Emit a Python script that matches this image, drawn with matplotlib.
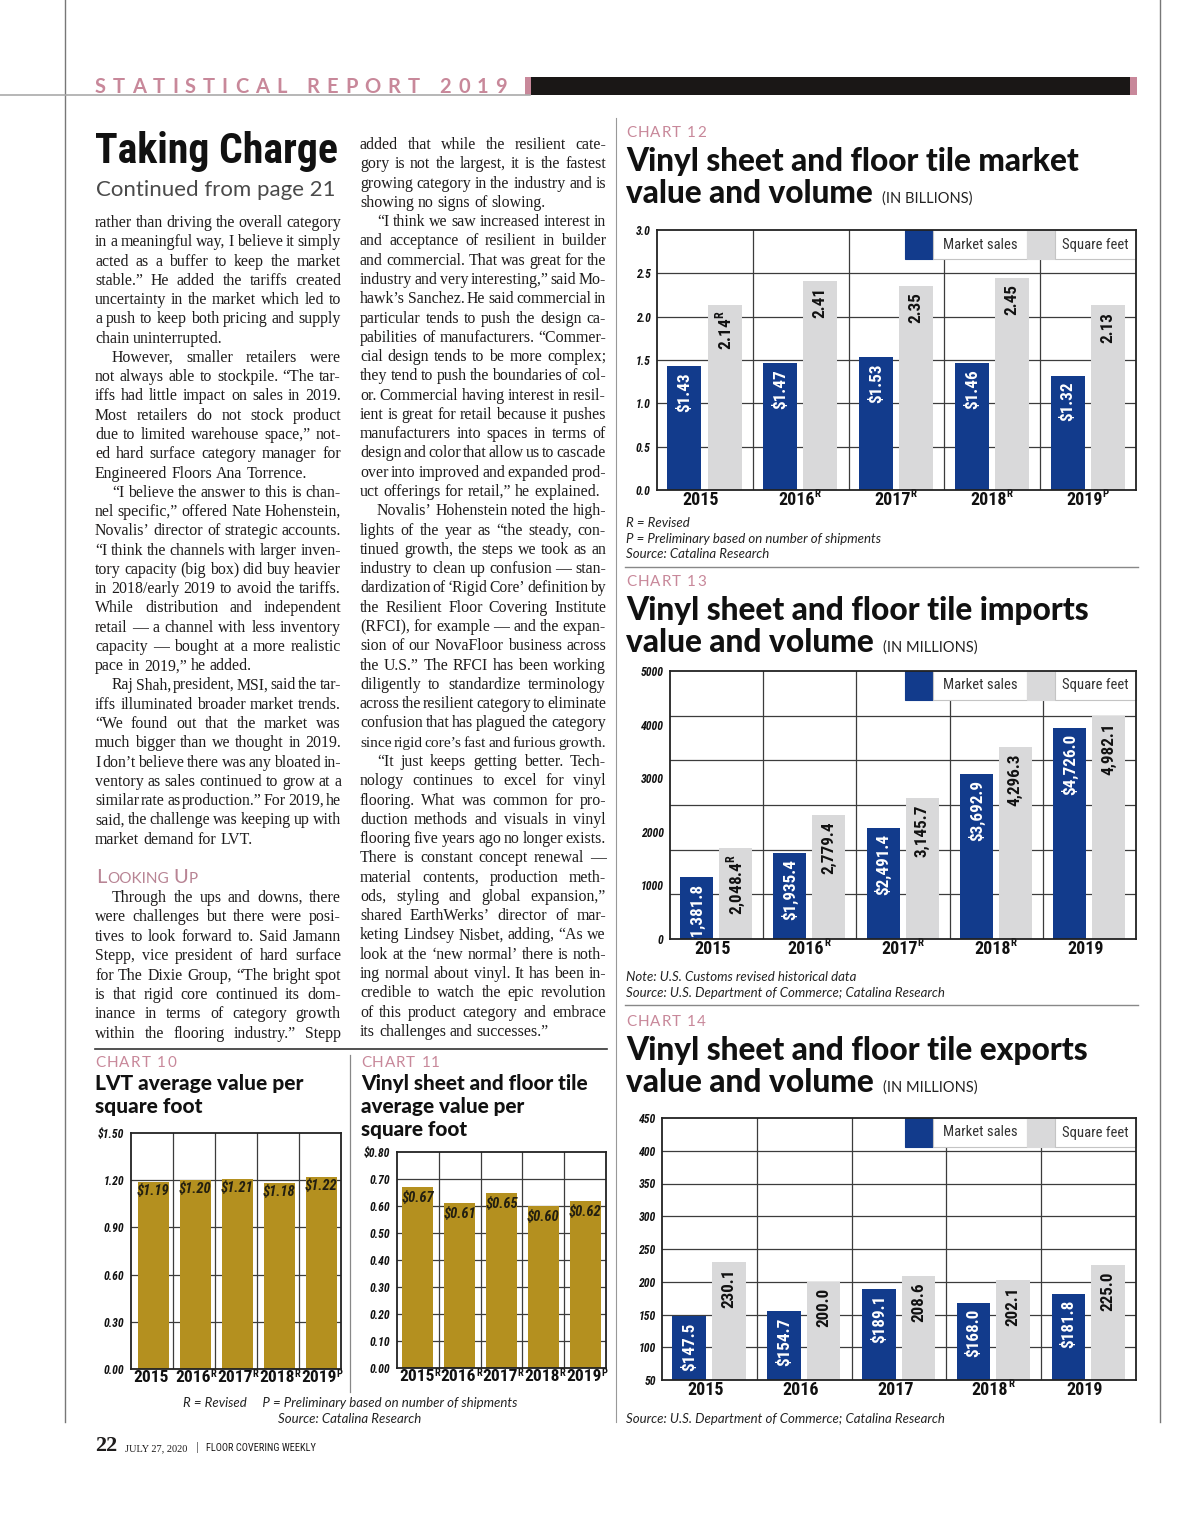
import matplotlib
matplotlib.use('Agg')
import matplotlib.pyplot as plt
from matplotlib import font_manager as fm
from matplotlib.patches import Rectangle
import numpy as np

# ---------------------------------------------------------------- data
years = ['2015', '2016', '2017', '2018', '2019']

c10_values = [1.19, 1.20, 1.21, 1.18, 1.22]
c10_year_sup = ['', 'R', 'R', 'R', 'P']
c10_ticks = [0.0, 0.3, 0.6, 0.9, 1.2, 1.5]
c10_tick_labels = ['0.00', '0.30', '0.60', '0.90', '1.20', '$1.50']

c11_values = [0.67, 0.61, 0.65, 0.60, 0.62]
c11_year_sup = ['R', 'R', 'R', 'R', 'P']
c11_ticks = [0.0, 0.1, 0.2, 0.3, 0.4, 0.5, 0.6, 0.7, 0.8]
c11_tick_labels = ['0.00', '0.10', '0.20', '0.30', '0.40', '0.50', '0.60', '0.70', '$0.80']

c12_sales = [1.43, 1.47, 1.53, 1.46, 1.32]
c12_sqft = [2.14, 2.41, 2.35, 2.45, 2.13]
c12_sqft_sup = ['R', '', '', '', '']
c12_year_sup = ['', 'R', 'R', 'R', 'P']
c12_ticks = [0.0, 0.5, 1.0, 1.5, 2.0, 2.5, 3.0]
c12_tick_labels = ['0.0', '0.5', '1.0', '1.5', '2.0', '2.5', '3.0']

c13_sales = [1381.8, 1935.4, 2491.4, 3692.9, 4726.0]
c13_sqft = [2048.4, 2779.4, 3145.7, 4296.3, 4982.1]
c13_sqft_sup = ['R', '', '', '', '']
c13_year_sup = ['', 'R', 'R', 'R', '']
c13_grid = [1000, 2000, 3000, 4000, 5000]
c13_tick_labels = ['0', '1000', '2000', '3000', '4000', '5000']

c14_sales = [147.5, 154.7, 189.1, 168.0, 181.8]
c14_sqft = [230.1, 200.0, 208.6, 202.1, 225.0]
c14_sqft_sup = ['', '', '', '', '']
c14_year_sup = ['', '', '', 'R', '']
c14_ticks = [50, 100, 150, 200, 250, 300, 350, 400, 450]
c14_tick_labels = ['50', '100', '150', '200', '250', '300', '350', '400', '450']

legend_labels = ['Market sales', 'Square feet']

# body text: (indent first line, lines, justify last line)
left_block_a = [
    (False, ["rather than driving the overall category",
             "in a meaningful way, I believe it simply",
             "acted as a buffer to keep the market",
             "stable.” He added the tariffs created",
             "uncertainty in the market which led to",
             "a push to keep both pricing and supply",
             "chain uninterrupted."], False),
    (True, ["However, smaller retailers were",
            "not always able to stockpile. “The tar-",
            "iffs had little impact on sales in 2019.",
            "Most retailers do not stock product",
            "due to limited warehouse space,” not-",
            "ed hard surface category manager for",
            "Engineered Floors Ana Torrence."], False),
    (True, ["“I believe the answer to this is chan-",
            "nel specific,” offered Nate Hohenstein,",
            "Novalis’ director of strategic accounts.",
            "“I think the channels with larger inven-",
            "tory capacity (big box) did buy heavier",
            "in 2018/early 2019 to avoid the tariffs.",
            "While distribution and independent",
            "retail — a channel with less inventory",
            "capacity — bought at a more realistic",
            "pace in 2019,” he added."], False),
    (True, ["Raj Shah, president, MSI, said the tar-",
            "iffs illuminated broader market trends.",
            "“We found out that the market was",
            "much bigger than we thought in 2019.",
            "I don’t believe there was any bloated in-",
            "ventory as sales continued to grow at a",
            "similar rate as production.” For 2019, he",
            "said, the challenge was keeping up with",
            "market demand for LVT."], False),
]
left_block_b = [
    (True, ["Through the ups and downs, there",
            "were challenges but there were posi-",
            "tives to look forward to. Said Jamann",
            "Stepp, vice president of hard surface",
            "for The Dixie Group, “The bright spot",
            "is that rigid core continued its dom-",
            "inance in terms of category growth",
            "within the flooring industry.” Stepp"], True),
]
middle_block = [
    (False, ["added that while the resilient cate-",
             "gory is not the largest, it is the fastest",
             "growing category in the industry and is",
             "showing no signs of slowing."], False),
    (True, ["“I think we saw increased interest in",
            "and acceptance of resilient in builder",
            "and commercial. That was great for the",
            "industry and very interesting,” said Mo-",
            "hawk’s Sanchez. He said commercial in",
            "particular tends to push the design ca-",
            "pabilities of manufacturers. “Commer-",
            "cial design tends to be more complex;",
            "they tend to push the boundaries of col-",
            "or. Commercial having interest in resil-",
            "ient is great for retail because it pushes",
            "manufacturers into spaces in terms of",
            "design and color that allow us to cascade",
            "over into improved and expanded prod-",
            "uct offerings for retail,” he explained."], False),
    (True, ["Novalis’ Hohenstein noted the high-",
            "lights of the year as “the steady, con-",
            "tinued growth, the steps we took as an",
            "industry to clean up confusion — stan-",
            "dardization of ‘Rigid Core’ definition by",
            "the Resilient Floor Covering Institute",
            "(RFCI), for example — and the expan-",
            "sion of our NovaFloor business across",
            "the U.S.” The RFCI has been working",
            "diligently to standardize terminology",
            "across the resilient category to eliminate",
            "confusion that has plagued the category",
            "since rigid core’s fast and furious growth."], True),
    (True, ["“It just keeps getting better. Tech-",
            "nology continues to excel for vinyl",
            "flooring. What was common for pro-",
            "duction methods and visuals in vinyl",
            "flooring five years ago no longer exists.",
            "There is constant concept renewal —",
            "material contents, production meth-",
            "ods, styling and global expansion,”",
            "shared EarthWerks’ director of mar-",
            "keting Lindsey Nisbet, adding, “As we",
            "look at the ‘new normal’ there is noth-",
            "ing normal about vinyl. It has been in-",
            "credible to watch the epic revolution",
            "of this product category and embrace",
            "its challenges and successes.”"], False),
]

# ---------------------------------------------------------------- fonts
def has_font(name):
    try:
        fm.findfont(fm.FontProperties(family=name), fallback_to_default=False)
        return True
    except Exception:
        return False


def pick(*names):
    for n in names:
        if has_font(n):
            return n
    return 'DejaVu Sans'


NARROW = pick('Roboto Condensed', 'Barlow Condensed', 'Archivo Narrow', 'Liberation Sans Narrow',
              'DejaVu Sans')
NS = 1.0 if NARROW != 'DejaVu Sans' else 0.78
SERIF = pick('Liberation Serif', 'Tinos', 'DejaVu Serif')
GEO = pick('Lato', 'Open Sans', 'DejaVu Sans')

# ---------------------------------------------------------------- style
W, H, DPI = 1200, 1516, 100
INK = '#1e1c1c'
PINK = '#c8889a'
BLUE = '#123b8c'
LGRAY = '#d9d9da'
GOLD = '#b4901f'
GRID = '#3c3c3c'

fig = plt.figure(figsize=(W / DPI, H / DPI), dpi=DPI)
fig.patch.set_facecolor('white')
ov = fig.add_axes([0, 0, 1, 1])
ov.set_xlim(0, W)
ov.set_ylim(H, 0)
ov.axis('off')
R = fig.canvas.get_renderer()


def tw(t):
    return t.get_window_extent(renderer=R).width


def rect(x0, y0, x1, y1):
    return [x0 / W, 1 - y1 / H, (x1 - x0) / W, (y1 - y0) / H]


def fit_text(x, y, s, width, fs=20, **kw):
    t = ov.text(x, y, s, fontsize=fs, ha='left', va='baseline', **kw)
    t.set_fontsize(fs * width / tw(t))
    return t


def spaced(x, y, s, x_end, **kw):
    fs = kw['fontsize']
    sp = fs * DPI / 72 * 0.3
    objs, ws = [], []
    for ch in s:
        t = ov.text(0, y, ch, ha='left', va='baseline', **kw)
        objs.append(t)
        ws.append(sp if ch == ' ' else tw(t))
    track = (x_end - x - sum(ws)) / (len(s) - 1)
    cx = x
    for t, w in zip(objs, ws):
        t.set_x(cx)
        cx += w + track


def seq(x, y, parts, **kw):
    cx = x
    for s, fs, g in parts:
        t = ov.text(cx, y, s, fontsize=fs, ha='left', va='baseline', **kw)
        cx += tw(t) + g
    return cx


BODY_W = 246.0
MIN_GAP = 0.5   # fraction of a normal word space allowed on tight lines


def word_widths(words, fs):
    out = []
    for w in words:
        t = ov.text(0, 0, w, fontsize=fs, family=SERIF)
        out.append(tw(t))
        t.remove()
    return out


def body_fontsize(blocks, fs0=11.0):
    fits = []
    for paras in blocks:
        for ind, lines, just_last in paras:
            for j, ln in enumerate(lines):
                last = j == len(lines) - 1
                if last and not just_last:
                    continue
                avail = BODY_W - (17 if (ind and j == 0) else 0)
                words = ln.split(' ')
                total = sum(word_widths(words, fs0))
                sp = fs0 * DPI / 72 * 0.25 * MIN_GAP
                fits.append(fs0 * avail / (total + (len(words) - 1) * sp))
    fits.sort()
    return fits[3]


def draw_line(s, x0, x1, y, justify, fs):
    words = s.split(' ')
    kw = dict(family=SERIF, color=INK, ha='left', va='baseline')
    objs = [ov.text(0, y, w, fontsize=fs, **kw) for w in words]
    widths = [tw(o) for o in objs]
    space = fs * DPI / 72 * 0.25
    n = len(words)
    total = sum(widths)
    avail = x1 - x0
    if total + (n - 1) * space * MIN_GAP > avail:
        f = avail / (total + (n - 1) * space * MIN_GAP)
        for o in objs:
            o.set_fontsize(fs * f)
        widths = [tw(o) for o in objs]
        total = sum(widths)
    if justify and n > 1:
        gap = (avail - total) / (n - 1)
    else:
        gap = space
    cx = x0
    for o, w in zip(objs, widths):
        o.set_x(cx)
        cx += w + gap


def draw_block(paras, x0, x1, y0, dy, fs, indent=17):
    i = 0
    for ind, lines, just_last in paras:
        for j, ln in enumerate(lines):
            xs = x0 + (indent if (ind and j == 0) else 0)
            last = j == len(lines) - 1
            draw_line(ln, xs, x1, y0 + i * dy, (not last) or just_last, fs)
            i += 1


def sup(base, s):
    return base + (r'$^{\mathregular{%s}}$' % s if s else '')


# ---------------------------------------------------------------- page furniture
ov.plot([65, 65], [0, 1422], color='#777', lw=1.0)
ov.plot([1160, 1160], [0, 1422], color='#777', lw=1.0)
ov.plot([0, 530], [95, 95], color='#aaa', lw=1.2)
ov.add_patch(Rectangle((525, 77), 6, 18, facecolor=PINK, edgecolor='none'))
ov.add_patch(Rectangle((531, 77), 599, 18, facecolor='#1a1716', edgecolor='none'))
ov.add_patch(Rectangle((1130, 77), 7, 18, facecolor=PINK, edgecolor='none'))
spaced(95, 93, 'STATISTICAL REPORT 2019', 507, fontsize=14.5, family=GEO,
       fontweight='bold', color=PINK)

ov.plot([616, 616], [118, 1422], color='#999', lw=0.8)
ov.plot([625, 1138], [567, 567], color='#888', lw=1.0)
ov.plot([625, 1138], [1005, 1005], color='#888', lw=1.0)
ov.plot([95, 607], [1049, 1049], color='#333', lw=1.2)
ov.plot([350, 350], [1055, 1392], color='#888', lw=0.9)

# headline
fit_text(95, 163, 'Taking Charge', 243, fs=30, family=NARROW, fontweight='bold', color='#111')
fit_text(96, 196, 'Continued from page 21', 237, fs=13, family=GEO, fontweight='normal',
         color='#4a4a4a')

# body text
FS_BODY = body_fontsize([left_block_a, left_block_b, middle_block])
draw_block(left_block_a, 95, 341, 227, 19.27, FS_BODY)
draw_block(left_block_b, 95, 341, 902, 19.4, FS_BODY)
draw_block(middle_block, 360, 606, 149, 19.28, FS_BODY)

# Looking Up
seq(96, 883, [('L', 14.5, 0.5), ('OOKING', 11, 5), ('U', 14.5, 0.5), ('P', 11, 0)],
    family=GEO, color='#b88494')

# footer
x = seq(95, 1451, [('22', 16, 8)], family='Liberation Serif', fontweight='bold', color=INK)
x = seq(x, 1451, [('JULY 27, 2020', 7.5, 8)], family=SERIF, color=INK)
x = seq(x, 1451, [('|', 8, 8)], family=GEO, color='#555')
seq(x, 1451, [('FLOOR COVERING WEEKLY', 7.5, 0)], family=NARROW, color=INK)


# chart headings
def heading(x, y_lab, lab, lab_end, lines, width, bold_fs, y_lines, suffix=None):
    spaced(x, y_lab, lab, lab_end, fontsize=11, family=GEO, color=PINK)
    t = fit_text(x, y_lines[0], lines[0], width, fs=bold_fs, family=GEO,
                 fontweight='black', color='#111')
    fs = t.get_fontsize()
    last = t
    for ln, yy in zip(lines[1:], y_lines[1:]):
        last = ov.text(x, yy, ln, fontsize=fs, family=GEO, fontweight='black',
                       color='#111', ha='left', va='baseline')
    if suffix:
        ov.text(x + tw(last) + 9, y_lines[-1], suffix, fontsize=10.5, family=GEO,
                color='#222', ha='left', va='baseline')


heading(626, 137, 'CHART 12', 706, ['Vinyl sheet and floor tile market', 'value and volume'],
        453, 24, [171, 203], '(IN BILLIONS)')
heading(626, 586, 'CHART 13', 706, ['Vinyl sheet and floor tile imports', 'value and volume'],
        462, 24, [620, 652], '(IN MILLIONS)')
heading(626, 1026, 'CHART 14', 706, ['Vinyl sheet and floor tile exports', 'value and volume'],
        462, 24, [1060, 1092], '(IN MILLIONS)')
heading(95, 1067, 'CHART 10', 176, ['LVT average value per', 'square foot'], 209, 15,
        [1090, 1113])
heading(361, 1067, 'CHART 11', 440, ['Vinyl sheet and floor tile', 'average value per',
                                      'square foot'], 229, 15, [1090, 1113, 1136])

# footnotes
NOTE = dict(family=GEO, fontstyle='italic', color='#222', va='baseline')
ov.text(350, 1407, 'R = Revised     P = Preliminary based on number of shipments',
        fontsize=9.5, ha='center', **NOTE)
ov.text(350, 1423, 'Source: Catalina Research', fontsize=9.5, ha='center', **NOTE)
ov.text(626, 527, 'R = Revised', fontsize=9.5, ha='left', **NOTE)
ov.text(626, 543, 'P = Preliminary based on number of shipments', fontsize=9.5, ha='left', **NOTE)
ov.text(626, 558, 'Source: Catalina Research', fontsize=9.5, ha='left', **NOTE)
ov.text(626, 981, 'Note: U.S. Customs revised historical data', fontsize=9.5, ha='left', **NOTE)
ov.text(626, 997, 'Source: U.S. Department of Commerce; Catalina Research', fontsize=9.5,
        ha='left', **NOTE)
ov.text(626, 1423, 'Source: U.S. Department of Commerce; Catalina Research', fontsize=9.5,
        ha='left', **NOTE)

# ---------------------------------------------------------------- charts
TICKY = dict(fontsize=8.5 * NS, fontstyle='italic', fontweight='bold', family=NARROW, color='#111')


def chart_axes(px, ymin, ymax):
    ax = fig.add_axes(rect(*px))
    ax.set_xlim(0, 5)
    ax.set_ylim(ymin, ymax)
    ax.set_facecolor('white')
    for s in ax.spines.values():
        s.set_linewidth(1.3)
        s.set_color('#222')
        s.set_zorder(6)
    ax.tick_params(length=0)
    for xv in range(1, 5):
        ax.axvline(xv, color=GRID, lw=0.9, zorder=1)
    return ax


def year_labels(ax, xs, ysup, fs, pad):
    ax.set_xticks([])
    for xv, yr, s in zip(xs, years, ysup):
        t = ax.annotate(yr, xy=(xv, 0), xycoords=('data', 'axes fraction'), xytext=(0, -pad),
                        textcoords='offset points', ha='center', va='top', fontsize=fs,
                        fontweight='bold', family=NARROW, color='#111', annotation_clip=False)
        if s:
            ax.annotate(s, xy=(1, 1), xycoords=t, xytext=(-0.2, 1.2), textcoords='offset points',
                        ha='left', va='top', fontsize=fs * 0.6, fontweight='bold',
                        family=NARROW, color='#111', annotation_clip=False)


def gold_chart(px, values, ticks, labels, ysup, center, width, val_off):
    ax = chart_axes(px, 0, ticks[-1])
    for yv in ticks[1:-1]:
        ax.axhline(yv, color=GRID, lw=0.9, zorder=1)
    xs = np.arange(5) + center
    ax.bar(xs, values, width, color=GOLD, zorder=2)
    for xv, v in zip(xs, values):
        ax.annotate('$%.2f' % v, (xv, v), xytext=(0, val_off), textcoords='offset points',
                    ha='center', va='top', fontsize=10.5 * NS, fontweight='bold',
                    fontstyle='italic', family=NARROW, color='#231f10', zorder=3)
    ax.set_yticks(ticks, labels, **TICKY)
    ax.tick_params(axis='y', pad=5)
    year_labels(ax, np.arange(5) + 0.47, ysup, 12.5 * NS, 1.0)
    return ax


def pair_chart(px, ymin, ymax, grid_ys, sales, sqft, sales_fmt, sqft_fmt, sqft_sup,
               ysup, yticks, ylabels):
    ax = chart_axes(px, ymin, ymax)
    for yv in grid_ys:
        ax.axhline(yv, color=GRID, lw=0.9, zorder=1)
    xb = np.arange(5) + 0.287
    xg = np.arange(5) + 0.705
    w = 0.355
    ax.bar(xb, sales, w, color=BLUE, zorder=2)
    ax.bar(xg, sqft, w, color=LGRAY, zorder=2)
    lab = dict(textcoords='offset points', rotation=90, ha='center', va='top',
               fontsize=12.3 * NS, fontweight='bold', family=NARROW, clip_on=True, zorder=3)
    for xv, v in zip(xb, sales):
        ax.annotate(sales_fmt.format(v), (xv, v), xytext=(0, -4.5), color='white', **lab)
    for xv, v, s in zip(xg, sqft, sqft_sup):
        ax.annotate(sup(sqft_fmt.format(v), s), (xv, v), xytext=(0, -4.5), color='#111', **lab)
    ax.set_yticks(yticks, ylabels, **TICKY)
    ax.tick_params(axis='y', pad=4.5)
    year_labels(ax, np.arange(5) + 0.46, ysup, 13 * NS, 0.5)
    # legend boxes at fixed page position
    x0p, y0p, x1p, y1p = px

    def fx(v):
        return (v - x0p) / (x1p - x0p)
    hf = 29 / (y1p - y0p)
    segs = [(905, 933, BLUE, None), (933, 1027, 'white', legend_labels[0]),
            (1027, 1055, LGRAY, None), (1055, 1136, 'white', legend_labels[1])]
    for a, b, c, t in segs:
        ax.add_patch(Rectangle((fx(a), 1 - hf), fx(b) - fx(a), hf, transform=ax.transAxes,
                               facecolor=c, edgecolor=('#c4c4c4' if c == 'white' else c),
                               lw=0.8, zorder=4, clip_on=False))
        if t:
            ax.text((fx(a) + fx(b)) / 2, 1 - hf / 2, t, transform=ax.transAxes, ha='center',
                    va='center', fontsize=10.5 * NS, family=NARROW, color='#333', zorder=5)
    return ax


gold_chart((131, 1133, 341, 1369), c10_values, c10_ticks, c10_tick_labels, c10_year_sup,
           0.53, 0.73, -1.5)
gold_chart((397, 1152, 606, 1368), c11_values, c11_ticks, c11_tick_labels, c11_year_sup,
           0.5, 0.74, -3)

pair_chart((657, 230, 1136, 490), 0, 3.0, c12_ticks[1:-1], c12_sales, c12_sqft,
           '${:.2f}', '{:.2f}', c12_sqft_sup, c12_year_sup, c12_ticks, c12_tick_labels)
pair_chart((670, 671, 1136, 939), 0, 6000, c13_grid, c13_sales, c13_sqft,
           '${:,.1f}', '{:,.1f}', c13_sqft_sup, c13_year_sup,
           np.linspace(0, 6000, 6), c13_tick_labels)
pair_chart((662, 1118, 1136, 1380), 50, 450, c14_ticks[1:-1], c14_sales, c14_sqft,
           '${:.1f}', '{:.1f}', c14_sqft_sup, c14_year_sup, c14_ticks, c14_tick_labels)

fig.savefig('out.png', dpi=DPI)
